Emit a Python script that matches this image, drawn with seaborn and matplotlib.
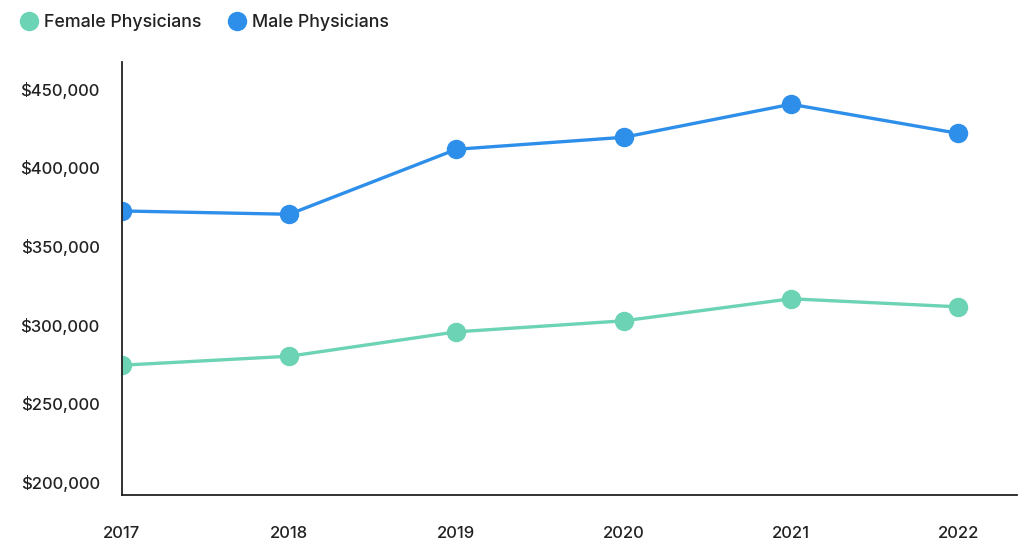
import matplotlib
matplotlib.use('Agg')
import matplotlib.pyplot as plt
import matplotlib.ticker as mticker
from matplotlib.lines import Line2D
import seaborn as sns
import pandas as pd

years = [2017, 2018, 2019, 2020, 2021, 2022]
female = [274300, 280000, 295500, 302500, 316500, 311400]
male = [372300, 370200, 411500, 419100, 440100, 421600]
series_names = ['Female Physicians', 'Male Physicians']
y_ticks = [200000, 250000, 300000, 350000, 400000, 450000]

FEMALE_COLOR = '#6cd3b4'
MALE_COLOR = '#2e8fea'

df = pd.DataFrame({
    'year': years * 2,
    'salary': female + male,
    'group': [series_names[0]] * len(years) + [series_names[1]] * len(years),
})

sns.set_theme(style='white')
plt.rcParams['font.family'] = ['Inter', 'DejaVu Sans']
plt.rcParams['font.weight'] = 'medium'

fig = plt.figure(figsize=(10.25, 5.43), dpi=100)
ax = fig.add_axes([0.119, 0.088, 0.873, 0.798])

palette = {series_names[0]: FEMALE_COLOR, series_names[1]: MALE_COLOR}
sns.lineplot(data=df, x='year', y='salary', hue='group', palette=palette,
             marker='o', markersize=14, markeredgewidth=0, linewidth=2.4,
             legend=False, ax=ax)

ax.set_xlim(2017, 2022.35)
ax.set_ylim(191700, 467000)
ax.set_xticks(years)
ax.set_xticklabels([str(y) for y in years])
ax.set_yticks(y_ticks)
ax.yaxis.set_major_formatter(mticker.FuncFormatter(lambda v, p: '${:,.0f}'.format(v)))
ax.set_xlabel('')
ax.set_ylabel('')

for side in ['top', 'right']:
    ax.spines[side].set_visible(False)
for side in ['left', 'bottom']:
    ax.spines[side].set_color('#222222')
    ax.spines[side].set_linewidth(1.3)

ax.tick_params(axis='y', length=0, pad=16, labelsize=12, labelcolor='#222222')
ax.tick_params(axis='x', length=0, pad=22, labelsize=12, labelcolor='#222222')

handles = [Line2D([], [], marker='o', linestyle='', markersize=14,
                  markerfacecolor=c, markeredgewidth=0)
           for c in (FEMALE_COLOR, MALE_COLOR)]
fig.legend(handles, series_names, loc='upper left', bbox_to_anchor=(0.004, 1.005),
           ncol=2, frameon=False, fontsize=12.8, handletextpad=0.35,
           columnspacing=1.5, handlelength=1.0, labelcolor='#222222')

fig.savefig('out.png', dpi=100)
